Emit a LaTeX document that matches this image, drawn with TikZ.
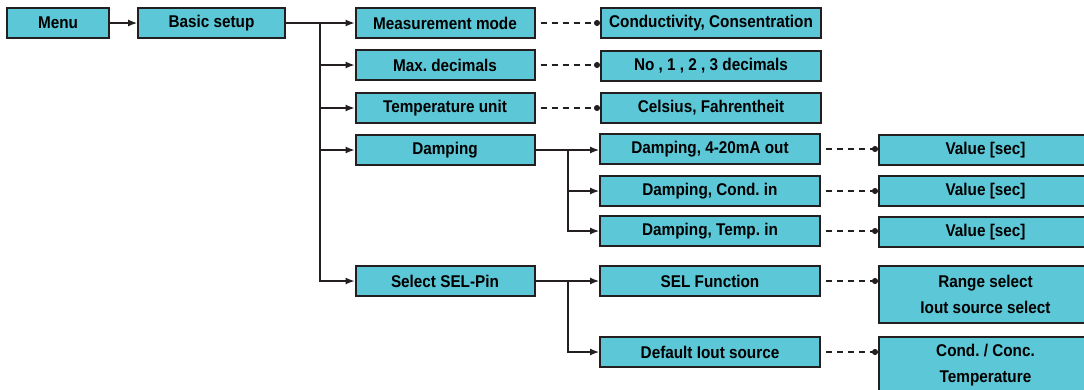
\documentclass[tikz,border=0pt]{standalone}
\usepackage{fontspec}
\setmainfont{Liberation Sans}[FakeStretch=0.9]
\frenchspacing
\definecolor{MenuCyan}{HTML}{5BC7D7}
\definecolor{MenuLine}{HTML}{231F20}
\usetikzlibrary{arrows.meta,positioning,calc}

\tikzset{
  menubox/.style={
    draw=MenuLine,
    line width=2pt,
    fill=MenuCyan,
    inner sep=0pt,
    align=center,
    minimum height=30pt,
    font=\fontsize{17}{26}\selectfont\bfseries
  },
  link/.style={draw=MenuLine, line width=1.2pt, -{Latex[length=9pt,width=7pt]}},
  option/.style={draw=MenuLine, line width=1.2pt, dash pattern=on 6pt off 5pt,
    -{Circle[length=6pt]}, shorten <=5pt}
}

\begin{document}
\begin{tikzpicture}[x=1pt,y=-1pt]
  \useasboundingbox (0,0) rectangle (1084,389);

  % first level
  \node[menubox, minimum width=102pt] (menu) at (58,23) {Menu};
  \node[menubox, minimum width=147pt] (basic) at (211.5,23) {Basic setup};

  % settings
  \node[menubox, minimum width=179pt] (mmode) at (445,23) {Measurement mode};
  \node[menubox, minimum width=179pt] (maxdec) at (445,65) {Max. decimals};
  \node[menubox, minimum width=179pt] (tempunit) at (445,108) {Temperature unit};
  \node[menubox, minimum width=179pt] (damp) at (445,150) {Damping};
  \node[menubox, minimum width=179pt] (selpin) at (445,281) {Select SEL-Pin};

  % sub settings
  \node[menubox, minimum width=220pt] (cond) at (711,23) {Conductivity, Consentration};
  \node[menubox, minimum width=220pt] (decs) at (711,66) {No , 1 , 2 , 3 decimals};
  \node[menubox, minimum width=220pt] (celsius) at (711,108) {Celsius, Fahrentheit};
  \node[menubox, minimum width=220pt] (dampout) at (710,149) {Damping, 4-20mA out};
  \node[menubox, minimum width=220pt] (dampcond) at (710,191) {Damping, Cond. in};
  \node[menubox, minimum width=220pt] (damptemp) at (710,231) {Damping, Temp. in};
  \node[menubox, minimum width=220pt] (selfun) at (710,281) {SEL Function};
  \node[menubox, minimum width=220pt] (defiout) at (710,352) {Default Iout source};

  % values
  \node[menubox, minimum width=213pt] (valout) at (985.5,150) {Value [sec]};
  \node[menubox, minimum width=213pt] (valcond) at (985.5,191) {Value [sec]};
  \node[menubox, minimum width=213pt] (valtemp) at (985.5,232) {Value [sec]};
  \node[menubox, minimum width=213pt, minimum height=57pt] (rangesel) at (985.5,294.5)
    {Range select\\Iout source select};
  \node[menubox, minimum width=213pt, minimum height=57pt] (condconc) at (985.5,365)
    {Cond. / Conc.\\Temperature};

  % connectors
  \coordinate (trunk) at (320,23);
  \coordinate (dampfork) at (568,150);
  \coordinate (selfork) at (568,281);

  \draw[link] (menu) -- (basic);
  \draw[link] (basic) -- (mmode);
  \foreach \target in {maxdec,tempunit,damp,selpin}
    \draw[link] (trunk) |- (\target.west);

  \draw[link] (damp) -- (dampout.west |- damp);
  \foreach \target in {dampcond,damptemp}
    \draw[link] (dampfork) |- (\target.west);
  \draw[link] (selpin) -- (selfun);
  \draw[link] (selfork) |- (defiout.west);

  \draw[option] (mmode.east) -- (cond.west);
  \draw[option] (maxdec.east) -- (decs.west |- maxdec);
  \draw[option] (tempunit.east) -- (celsius.west);
  \draw[option] (dampout.east) -- (valout.west |- dampout);
  \draw[option] (dampcond.east) -- (valcond.west |- dampcond);
  \draw[option] (damptemp.east) -- (valtemp.west |- damptemp);
  \draw[option] (selfun.east) -- (rangesel.west |- selfun);
  \draw[option] (defiout.east) -- (condconc.west |- defiout);
\end{tikzpicture}
\end{document}
